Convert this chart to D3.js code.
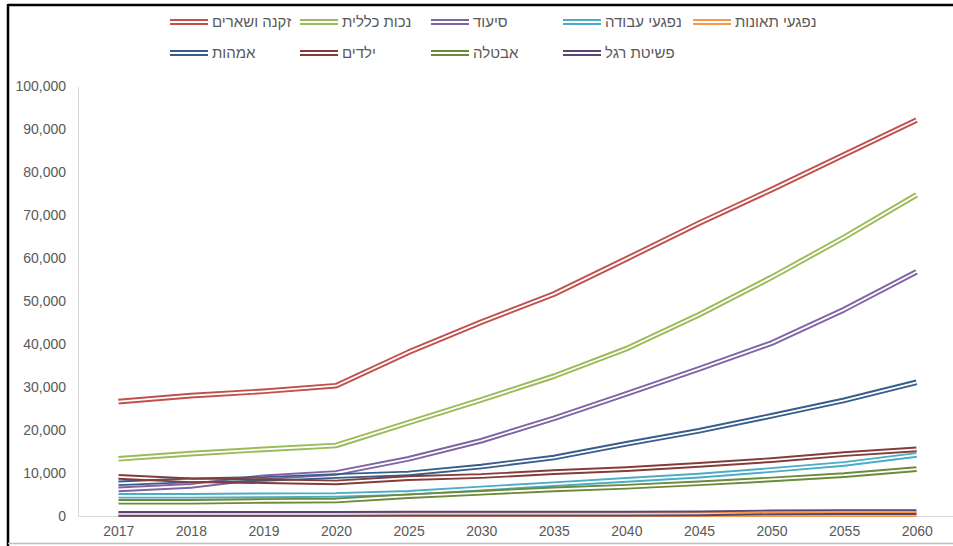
<!DOCTYPE html>
<html><head><meta charset="utf-8">
<script src="https://cdn.jsdelivr.net/npm/d3@7"></script>
<style>html,body{margin:0;padding:0;background:#fff;}svg{display:block;}</style>
</head><body>
<svg id="chart" width="953" height="546"></svg>
<script>
const years = ["2017","2018","2019","2020","2025","2030","2035","2040","2045","2050","2055","2060"];
const seriesNames = ["זקנה ושארים","נכות כללית","סיעוד","נפגעי עבודה","נפגעי תאונות","אמהות","ילדים","אבטלה","פשיטת רגל"];
const oldAge      = [26600, 28000, 29000, 30300, 38100, 45100, 51600, 59800, 68100, 75900, 84000, 92100];
const disability  = [13300, 14500, 15500, 16400, 21700, 27000, 32500, 38900, 46800, 55500, 64800, 74700];
const nursing     = [6200, 7000, 9000, 10000, 13300, 17500, 22700, 28400, 34200, 40200, 48000, 56800];
const workInjury  = [4700, 4700, 4800, 4900, 5400, 6400, 7400, 8400, 9400, 10700, 12100, 14200];
const accidents   = [400, 400, 400, 400, 400, 400, 400, 400, 400, 400, 400, 400];
const maternity   = [7600, 8300, 8600, 9300, 9900, 11500, 13600, 16800, 19800, 23300, 26900, 31100];
const children    = [9100, 8300, 8100, 7800, 8800, 9300, 10200, 10900, 11900, 13000, 14400, 15500];
const unemployment= [3300, 3300, 3500, 3600, 4600, 5400, 6200, 6800, 7600, 8500, 9500, 10900];
const bankruptcy  = [500, 500, 500, 500, 550, 550, 550, 550, 600, 850, 900, 900];
const yTicks = [0,10000,20000,30000,40000,50000,60000,70000,80000,90000,100000];
const colors = ["#C0504D","#9BBB59","#8064A2","#4BACC6","#F79646","#385D8A","#843C39","#6B8A3A","#5A4674"];

const allValues = [oldAge, disability, nursing, workInjury, accidents, maternity, children, unemployment, bankruptcy];
const series = seriesNames.map((n,i)=>({name:n, values:allValues[i], color:colors[i]}));

const svg = d3.select("#chart");
const W = 953, H = 546;
const font = "'Liberation Sans', Arial, sans-serif";

// frame
svg.append("line").attr("x1",8).attr("x2",W).attr("y1",5).attr("y2",5).attr("stroke","#000").attr("stroke-width",2.5);
svg.append("line").attr("x1",8).attr("x2",8).attr("y1",4).attr("y2",H).attr("stroke","#000").attr("stroke-width",2.5);
svg.append("line").attr("x1",8).attr("x2",W).attr("y1",543.5).attr("y2",543.5).attr("stroke","#BFBFBF").attr("stroke-width",1.5);

const x = d3.scalePoint().domain(years).range([82, 953]).padding(0.5);
const y = d3.scaleLinear().domain([0,100000]).range([516, 86]);

// y axis
const yAxis = d3.axisLeft(y).tickValues(yTicks).tickSize(0).tickPadding(12).tickFormat(d3.format(","));
const yg = svg.append("g").attr("transform","translate(78,0)").call(yAxis);
yg.select(".domain").attr("stroke","#D9D9D9").attr("stroke-width",1);
yg.selectAll("text").attr("font-family",font).attr("font-size",14).attr("fill","#595959");

// x axis
const xAxis = d3.axisBottom(x).tickSize(0).tickPadding(10);
const xg = svg.append("g").attr("transform","translate(0,516)").call(xAxis);
xg.select(".domain").attr("d","M78,0.5H953").attr("stroke","#D9D9D9").attr("stroke-width",1);
xg.selectAll("text").attr("font-family",font).attr("font-size",14).attr("fill","#595959");

// lines as double strokes (mask cuts transparent gap)
const line = d3.line().x((d,i)=>x(years[i])).y(d=>y(d));
const defs = svg.append("defs");
const OUT = 5.6, GAP = 1.8;
series.forEach((s,i)=>{
  const m = defs.append("mask").attr("id","m"+i).attr("maskUnits","userSpaceOnUse")
    .attr("x",0).attr("y",0).attr("width",W).attr("height",H);
  m.append("path").attr("d",line(s.values)).attr("fill","none").attr("stroke","#fff").attr("stroke-width",OUT+2).attr("stroke-linejoin","round");
  m.append("path").attr("d",line(s.values)).attr("fill","none").attr("stroke","#000").attr("stroke-width",GAP).attr("stroke-linejoin","round");
});
const lg = svg.append("g");
series.forEach((s,i)=>{
  lg.append("path").attr("d",line(s.values)).attr("fill","none").attr("stroke",s.color)
    .attr("stroke-width",OUT).attr("stroke-linejoin","round").attr("mask","url(#m"+i+")");
});

// legend
const legX = [170,300,431,563,693];
const legRowY = [22,53];
const leg = svg.append("g");
series.forEach((s,i)=>{
  const row = i<5?0:1, col = i<5?i:i-5;
  const lx = legX[col], ly = legRowY[row];
  [-1.9,1.9].forEach(o=>{
    leg.append("line").attr("x1",lx).attr("x2",lx+38).attr("y1",ly+o).attr("y2",ly+o)
      .attr("stroke",s.color).attr("stroke-width",2);
  });
  leg.append("text").attr("x",lx+42).attr("y",ly).attr("dy","0.35em")
    .attr("font-family",font).attr("font-size",15).attr("fill","#595959").text(s.name);
});
</script>
</body></html>
